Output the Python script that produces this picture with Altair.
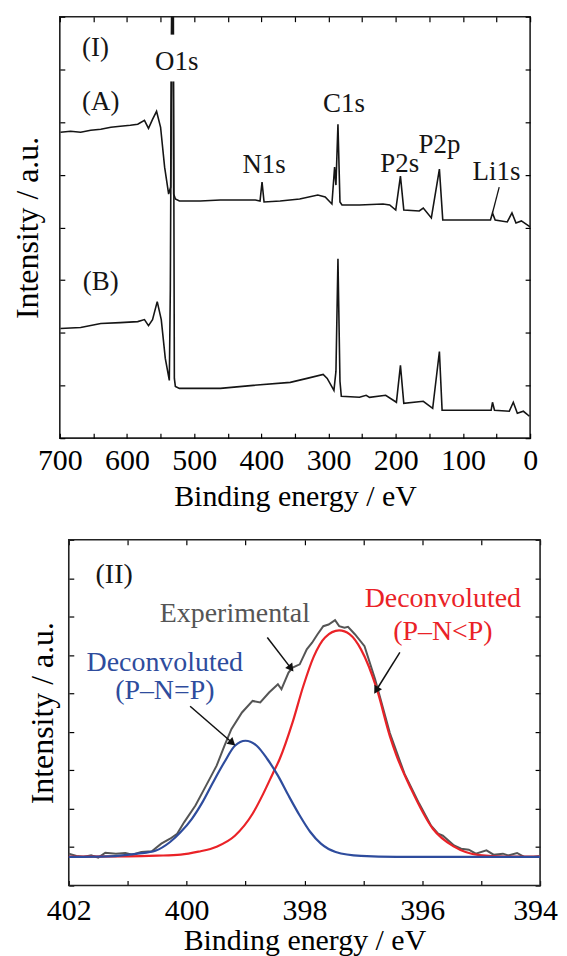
import altair as alt
import pandas as pd

# ---------------- Panel (I): survey spectra ----------------
A_be = [699, 684, 669, 654, 639, 624, 610, 595, 584, 574, 568, 562, 556, 550, 544, 538, 535, 532.8, 531.8, 530.5,
        528, 522, 491, 461, 432, 409, 402, 399, 396, 372, 343, 316, 305, 295, 291, 289, 286, 283, 280, 254,
        219, 209, 200, 193, 188, 165, 159, 147, 135, 130, 90, 59, 56, 52, 34, 27, 21, 13, 0]
A_int = [307, 308, 307, 309, 310, 312, 313, 314, 315, 319, 311, 320, 328, 312, 272, 245, 252, 480, 480, 245,
         240, 238, 238, 239, 239, 239, 238, 257, 237, 238, 240, 244, 242, 235, 272, 254, 315, 237, 234, 234,
         235, 234, 229, 263, 229, 228, 231, 221, 270, 219, 219, 219, 226, 219, 217, 226, 216, 218, 212]

B_be = [699, 669, 639, 610, 584, 574, 568, 562, 555, 549, 543, 537, 535.5, 533.2, 531.2, 529.5, 528, 522, 461, 412,
        357, 332, 308, 302, 292, 289, 286, 283, 281, 254, 244, 239, 215, 199, 193, 188, 159, 145, 135, 131,
        76, 58, 56, 53, 31, 25, 19, 10, 1]
B_int = [110, 111, 115, 116, 117, 119, 113, 119, 137, 119, 80, 58, 150, 480, 480, 60, 52, 50, 50, 53,
         56, 60, 64, 60, 48, 67, 180, 57, 42, 41, 43, 41, 43, 36, 73, 35, 37, 30, 87, 28,
         28, 28, 36, 28, 27, 36, 25, 27, 22]

lab1_text = ["(I)", "O1s", "(A)", "C1s", "N1s", "P2s", "P2p", "Li1s", "(B)"]
lab1_be = [647, 526, 639, 277, 396, 194, 135, 50, 639]
lab1_int = [392, 377, 337, 335, 274, 275, 294, 267, 157]

# pointer from the Li1s label to its peak
li_be = [46]
li_be2 = [56]
li_int = [252]
li_int2 = [226]

# gap in the O1s bar behind its label
gap_be = [540]
gap_be2 = [524]
gap_int = [358]
gap_int2 = [405]

x1_ticks = list(range(0, 701, 50))
y1_ticks = [i * 423 / 8 for i in range(9)]

# ---------------- Panel (II): N1s region ----------------
exp_be = [402.0, 401.87, 401.75, 401.62, 401.50, 401.38, 401.20, 401.04, 400.92, 400.77, 400.59, 400.43,
          400.28, 400.16, 400.04, 399.85, 399.67, 399.49, 399.36, 399.24, 399.06, 398.88, 398.75, 398.60,
          398.45, 398.39, 398.27, 398.20, 398.08, 397.96, 397.87, 397.78, 397.68, 397.59, 397.48, 397.41,
          397.32, 397.26, 397.14, 396.98, 396.80, 396.55, 396.30, 396.05, 395.85, 395.73, 395.65, 395.46,
          395.34, 395.21, 395.09, 394.91, 394.79, 394.63, 394.54, 394.39, 394.27, 394.11, 394.0]
exp_int = [32, 29.7, 28.7, 30.3, 28, 33, 32, 32.7, 31, 33.7, 34.3, 42,
           47, 52, 63.7, 80.3, 100.3, 120.3, 140, 157, 173.7, 185.3, 183.7, 193.7,
           202, 197, 213.7, 218.7, 222, 237, 243.7, 252, 260.3, 262, 266.3, 260.3,
           258.7, 259.7, 252, 240.3, 207, 153, 112, 82, 60, 52, 50, 40.3,
           37, 36, 32, 35.3, 31, 32, 30.3, 32.7, 28.7, 28.7, 29.7]

red_be = [402.0, 401.0, 400.5, 400.1, 399.8, 399.49, 399.18, 398.88, 398.7, 398.54, 398.42, 398.20, 398.02,
          397.84, 397.65, 397.41, 397.23, 397.04, 396.77, 396.55, 396.44, 396.19, 395.82, 395.46, 395.03,
          394.6, 394.0]
red_int = [29, 29.3, 30, 31, 34, 39, 50, 72, 92, 112, 127, 164, 200,
           230, 249, 256, 252, 237, 197, 150, 131, 97, 57, 39, 30.5,
           29, 29]

blue_be = [402.0, 401.32, 400.83, 400.53, 400.28, 400.10, 399.91, 399.73, 399.55, 399.36, 399.18, 399.00,
           398.81, 398.63, 398.45, 398.27, 398.08, 397.90, 397.72, 397.47, 397.04, 396.44, 394.0]
blue_int = [28.7, 29.3, 32, 35, 43.7, 53.7, 67, 83.7, 103.7, 123.7, 140.3, 145.3,
            140.3, 127, 110.3, 90.3, 70.3, 53.7, 42, 33.7, 29.7, 28.7, 28.7]

arrow_name = ["exp", "red", "blue"]
arrow_be = [398.63, 396.38, 399.94]     # tails
arrow_int = [249, 234, 180]
arrow_be2 = [398.24, 396.77, 399.24]    # heads
arrow_int2 = [219, 197, 144]

x2_domain = [402, 394]
y2_domain = [0, 347]
x2_ticks = list(range(394, 403))
y2_ticks = [i * 347 / 9 for i in range(10)]

# ---------------- styling ----------------
FONT = "Liberation Serif"
W1, H1 = 472, 423
SHIFT2 = 9            # panel II plot sits this far right of panel I
W2, H2 = 473, 347
RED = "#ea2227"
BLUE = "#2e4c9d"
GRAY = "#555555"
FRAME = "#222"


def inward(orient, values, off=5, **kw):
    return alt.Axis(orient=orient, values=values, tickSize=5, offset=-off, domain=False, grid=False,
                    tickColor="black", tickWidth=1.2, labelOverlap=False, labelFlush=False, **kw)


xs1 = alt.Scale(domain=[0, 700], reverse=True, nice=False, zero=False)
ys1 = alt.Scale(domain=[0, 423], nice=False, zero=False)

df1 = pd.concat([
    pd.DataFrame({"be": A_be, "inten": A_int, "s": "A"}),
    pd.DataFrame({"be": B_be, "inten": B_int, "s": "B"}),
])

lines1 = alt.Chart(df1).mark_line(color="#151515", strokeWidth=1.6, clip=True).encode(
    x=alt.X("be:Q", scale=xs1,
            axis=inward("bottom", x1_ticks, title="Binding energy / eV",
                        labelExpr="datum.value % 100 === 0 ? datum.label : ''",
                        labelPadding=7, titlePadding=7)),
    y=alt.Y("inten:Q", scale=ys1,
            axis=inward("left", y1_ticks, labels=False, title="Intensity / a.u.",
                        titlePadding=15, titleFontSize=32)),
    detail="s:N",
)

gap1 = alt.Chart(pd.DataFrame({"a": gap_be, "b": gap_be2, "c": gap_int, "d": gap_int2})).mark_rect(
    fill="white", opacity=1).encode(
    x=alt.X("a:Q", scale=xs1, axis=None), x2="b:Q",
    y=alt.Y("c:Q", scale=ys1, axis=None), y2="d:Q",
)

text1 = alt.Chart(pd.DataFrame({"be": lab1_be, "inten": lab1_int, "t": lab1_text})).mark_text(
    font=FONT, fontSize=27, color="#151515", align="center", baseline="middle").encode(
    x=alt.X("be:Q", scale=xs1, axis=inward("top", x1_ticks, labels=False, title="")),
    y=alt.Y("inten:Q", scale=ys1, axis=inward("right", y1_ticks, labels=False, title="")),
    text="t:N",
)

rule1 = alt.Chart(pd.DataFrame({"a": li_be, "b": li_be2, "c": li_int, "d": li_int2})).mark_rule(
    color="#151515", strokeWidth=1.3).encode(
    x=alt.X("a:Q", scale=xs1, axis=None), x2="b:Q",
    y=alt.Y("c:Q", scale=ys1, axis=None), y2="d:Q",
)

spacer1 = alt.Chart(pd.DataFrame({"d": [0]})).mark_rule(strokeOpacity=0).encode(
    x=alt.value(-51), y=alt.value(-6), y2=alt.value(-5))

panel1 = alt.layer(lines1, gap1, text1, rule1, spacer1).resolve_axis(
    x="independent", y="independent").properties(width=W1, height=H1)

# ---- panel II (its view is widened on the left, the frame is drawn from the scale domain) ----
xs2 = alt.Scale(domain=x2_domain, range=[SHIFT2, SHIFT2 + W2], nice=False, zero=False)
ys2 = alt.Scale(domain=y2_domain, nice=False, zero=False)

frame2 = alt.Chart(pd.DataFrame({"a": [x2_domain[0]], "b": [x2_domain[1]],
                                 "c": [y2_domain[0]], "d": [y2_domain[1]]})).mark_rect(
    filled=False, stroke=FRAME, strokeWidth=1.6).encode(
    x=alt.X("a:Q", scale=xs2, axis=None), x2="b:Q",
    y=alt.Y("c:Q", scale=ys2, axis=None), y2="d:Q",
)

exp_line = alt.Chart(pd.DataFrame({"be": exp_be, "inten": exp_int})).mark_line(
    color=GRAY, strokeWidth=2).encode(
    x=alt.X("be:Q", scale=xs2,
            axis=inward("bottom", x2_ticks, title="Binding energy / eV",
                        labelExpr="datum.value % 2 === 0 ? datum.label : ''",
                        labelOffset={"condition": {"test": "datum.value === 394", "value": -5}, "value": 0},
                        labelPadding=10, titlePadding=0, titleX=SHIFT2 + W2 / 2)),
    y=alt.Y("inten:Q", scale=ys2,
            axis=inward("left", y2_ticks, off=SHIFT2 + 5, labels=False, title="Intensity / a.u.",
                        titlePadding=9, titleFontSize=32)),
)

red_line = alt.Chart(pd.DataFrame({"be": red_be, "inten": red_int})).mark_line(
    color=RED, strokeWidth=2.2, interpolate="monotone").encode(
    x=alt.X("be:Q", scale=xs2, axis=None), y=alt.Y("inten:Q", scale=ys2, axis=None))

blue_line = alt.Chart(pd.DataFrame({"be": blue_be, "inten": blue_int})).mark_line(
    color=BLUE, strokeWidth=2.2, interpolate="monotone").encode(
    x=alt.X("be:Q", scale=xs2, axis=None), y=alt.Y("inten:Q", scale=ys2, axis=None))

arrows_df = pd.DataFrame({"n": arrow_name, "a": arrow_be, "b": arrow_be2, "c": arrow_int, "d": arrow_int2})
arrows = alt.Chart(arrows_df).mark_rule(color="#111", strokeWidth=1.5).encode(
    x=alt.X("a:Q", scale=xs2, axis=None), x2="b:Q",
    y=alt.Y("c:Q", scale=ys2, axis=None), y2="d:Q",
)

head_angle = {"exp": 142, "red": 211, "blue": 131}
heads = []
for name in arrow_name:
    heads.append(
        alt.Chart(arrows_df).transform_filter(alt.datum.n == name).mark_point(
            shape="triangle", filled=True, color="#111", opacity=1, size=80, angle=head_angle[name]).encode(
            x=alt.X("b:Q", scale=xs2, axis=None), y=alt.Y("d:Q", scale=ys2, axis=None))
    )


def label2(texts, bes, ints, color, mirror=False):
    d = pd.DataFrame({"be": bes, "inten": ints, "t": texts})
    if mirror:
        xa = inward("top", x2_ticks, labels=False, title="")
        ya = inward("right", y2_ticks, labels=False, title="")
    else:
        xa = None
        ya = None
    return alt.Chart(d).mark_text(font=FONT, fontSize=28, color=color, align="center",
                                  baseline="middle").encode(
        x=alt.X("be:Q", scale=xs2, axis=xa), y=alt.Y("inten:Q", scale=ys2, axis=ya), text="t:N")


t_ii = label2(["(II)"], [401.23], [312], "#151515", mirror=True)
t_exp = label2(["Experimental"], [399.18], [272], GRAY)
t_red = label2(["Deconvoluted", "(P\u2013N<P)"], [395.65, 395.65], [287.7, 254.3], RED)
t_blue = label2(["Deconvoluted", "(P\u2013N=P)"], [400.37, 400.37], [223.7, 195.3], BLUE)

panel2 = alt.layer(frame2, exp_line, red_line, blue_line, arrows, *heads, t_ii, t_exp, t_red, t_blue
                   ).resolve_axis(x="independent", y="independent").properties(
    width=SHIFT2 + W2, height=H2, view=alt.ViewBackground(stroke="transparent"))

chart = alt.concat(panel1, panel2, columns=1, spacing=25).properties(padding=0).configure_view(
    stroke=FRAME, strokeWidth=1.6).configure_axis(
    labelFont=FONT, titleFont=FONT, labelFontSize=30, titleFontSize=30, titleFontWeight="normal",
    labelColor="black", titleColor="black")

chart.save("out.html", embed_options={"renderer": "svg", "actions": False})
